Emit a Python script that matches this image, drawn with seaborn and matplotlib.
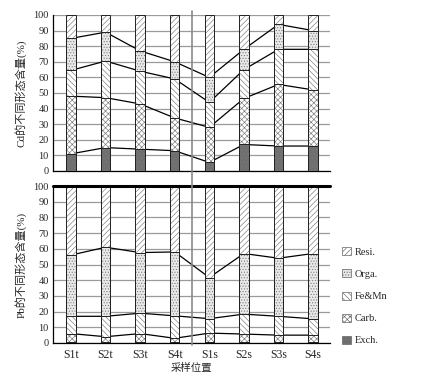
import numpy as np
import seaborn as sns
import matplotlib.pyplot as plt
from matplotlib.patches import Patch
from matplotlib.lines import Line2D
from matplotlib import transforms

sites = ['S1t', 'S2t', 'S3t', 'S4t', 'S1s', 'S2s', 'S3s', 'S4s']
fractions = ['Exch.', 'Carb.', 'Fe&Mn', 'Orga.', 'Resi.']

# cumulative tops of each fraction (%)
cd_exch = [11, 15, 14, 13, 5.5, 17, 16, 16]
cd_carb = [48, 47, 43, 34, 28, 46.5, 55.5, 52]
cd_femn = [64.5, 70.5, 64, 59, 44, 65, 78, 78]
cd_orga = [85, 89, 77, 70, 60, 78, 94, 90]
cd_resi = [100, 100, 100, 100, 100, 100, 100, 100]

pb_exch = [0.5, 0.5, 0.5, 0.5, 0.5, 0.5, 0.5, 0.5]
pb_carb = [6, 4, 6, 3, 6.3, 5.7, 5, 5]
pb_femn = [17, 17, 19, 17.3, 15.5, 18.4, 17, 15.4]
pb_orga = [56, 61, 57.6, 58, 41.7, 57, 54, 57]
pb_resi = [100, 100, 100, 100, 100, 100, 100, 100]

sns.set_style('white')
plt.rcParams['font.family'] = ['Liberation Serif', 'Noto Sans CJK SC']
plt.rcParams['hatch.linewidth'] = 0.45

styles = {
    'Resi.': ('white', '//////'),
    'Orga.': ('#e8e8e8', '......'),
    'Fe&Mn': ('white', '\\\\\\\\\\\\'),
    'Carb.': ('white', 'xxxxxx'),
    'Exch.': ('#6f6f6f', '....'),
}

fig = plt.figure(figsize=(4.42, 3.77), dpi=100)
ax_top = fig.add_axes([53 / 442, 1 - 171 / 377, 277 / 442, 156 / 377])
ax_bot = fig.add_axes([53 / 442, 1 - 343 / 377, 277 / 442, 157 / 377])


def draw(ax, layers, lines):
    for y in range(0, 101, 10):
        ax.axhline(y, color='#9a9a9a', lw=0.9, zorder=0)
    for name, vals in lines:
        ax.plot(range(len(sites)), vals, color='black', lw=0.9, zorder=2)
    for name, vals in layers:
        fc, hatch = styles[name]
        # hatched fill in a soft grey, then a dark outline on top
        sns.barplot(x=sites, y=vals, order=sites, color=fc, saturation=1,
                    width=0.27, edgecolor='#7a7a7a', hatch=hatch,
                    linewidth=0, errorbar=None, ax=ax, zorder=3)
        sns.barplot(x=sites, y=vals, order=sites, fill=False,
                    width=0.27, edgecolor='#222222',
                    linewidth=0.7, errorbar=None, ax=ax, zorder=3.5)
    ax.set_xlim(-0.52, 7.49)
    ax.set_ylim(0, 100)
    ax.set_yticks(range(0, 101, 10))
    ax.tick_params(axis='both', length=0, labelsize=7.5, pad=3)
    for s in ['right', 'top']:
        ax.spines[s].set_visible(False)
    for s in ['left', 'bottom']:
        ax.spines[s].set_color('black')
        ax.spines[s].set_linewidth(0.9)


draw(ax_top,
     [('Resi.', cd_resi), ('Orga.', cd_orga), ('Fe&Mn', cd_femn),
      ('Carb.', cd_carb), ('Exch.', cd_exch)],
     [('Orga.', cd_orga), ('Fe&Mn', cd_femn), ('Carb.', cd_carb), ('Exch.', cd_exch)])
draw(ax_bot,
     [('Resi.', pb_resi), ('Orga.', pb_orga), ('Fe&Mn', pb_femn),
      ('Carb.', pb_carb), ('Exch.', pb_exch)],
     [('Orga.', pb_orga), ('Fe&Mn', pb_femn), ('Carb.', pb_carb)])

ax_top.set_xticklabels([])
ax_top.set_xlabel('')
ax_bot.axhline(100, color='black', lw=2.2, zorder=4, clip_on=False)
ax_bot.tick_params(axis='x', labelsize=8.5, pad=4)

ax_top.set_ylabel('Cd的不同形态含量(%)', fontsize=8, labelpad=5)
ax_bot.set_ylabel('Pb的不同形态含量(%)', fontsize=8, labelpad=5)
ax_bot.set_xlabel('采样位置', fontsize=7.5, labelpad=2)

# vertical divider between the two site groups, spanning both panels
trans = transforms.blended_transform_factory(ax_top.transData, fig.transFigure)
fig.add_artist(Line2D([3.5, 3.5], [1 - 11 / 377, 1 - 345 / 377], transform=trans,
                      color='#8a8a8a', lw=1.2, zorder=5))

handles = []
for name in ['Resi.', 'Orga.', 'Fe&Mn', 'Carb.', 'Exch.']:
    fc, hatch = styles[name]
    handles.append(Patch(facecolor=fc, edgecolor='#666666', hatch=hatch, linewidth=0.5,
                         label=name))
fig.legend(handles=handles, loc='upper left', bbox_to_anchor=(333 / 442, 1 - 238 / 377),
           frameon=False, handlelength=0.8, handleheight=0.8, handletextpad=0.4,
           labelspacing=1.2, prop={'family': 'Liberation Serif', 'size': 7.5})

fig.savefig('out.png', dpi=100)
